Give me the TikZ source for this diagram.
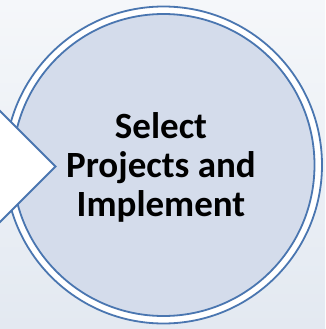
\documentclass[tikz,border=0pt]{standalone}
\usepackage{fontspec}
\setmainfont{Carlito}
\definecolor{bgtop}{HTML}{F5F7FA}
\definecolor{bgbot}{HTML}{E3E9F1}
\definecolor{ringblue}{HTML}{4A76B0}
\definecolor{discfill}{HTML}{D4DCEB}
\begin{document}
\begin{tikzpicture}[x=1pt,y=-1pt,
  ringline/.style={draw=ringblue,line width=1.8pt},
  label/.style={font=\bfseries\fontsize{37}{39}\selectfont,align=center,text=black}]
\useasboundingbox (0,0) rectangle (325,329);
\shade[top color=bgtop,bottom color=bgbot] (0,0) rectangle (325,329);
\clip (0,0) rectangle (325,329);
\coordinate (c) at (163.5,165);
\fill[white] (c) circle (158.5);
\draw[ringline] (c) circle (158.5);
\fill[discfill] (c) circle (151);
\draw[ringline] (c) circle (151);
\coordinate (t) at (55.5,166.5);
\coordinate (u) at (-12,99);
\coordinate (l) at (-12,234);
\filldraw[fill=white,draw=ringblue,line width=1.8pt,line join=miter] (u) -- (t) -- (l) -- cycle;
\node[label] (txt) at (161,167) {Select\\Projects and\\Implement};
\end{tikzpicture}
\end{document}
